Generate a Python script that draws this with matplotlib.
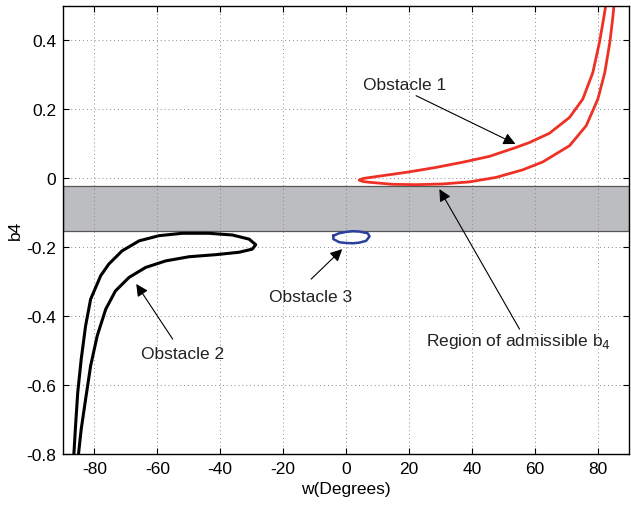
import matplotlib.pyplot as plt

plt.rcParams['font.family'] = ['Liberation Sans', 'DejaVu Sans']

# Obstacle 1 (red): upper branch top->tip, then lower branch tip->top
obs1_w = [82.9, 82.6, 81.9, 80.6, 78.5, 75.3, 71.1, 64.7, 58.3, 54.1, 45.6, 37.1, 28.6,
          20.1, 11.6, 5.5, 4.2,
          5.5, 7.4, 14.8, 22.3, 30.7, 39.2, 47.7, 56.2, 62.6, 71.1, 76.4, 80.1,
          82.3, 83.9, 84.8, 85.2, 85.5]
obs1_b = [0.55, 0.499, 0.461, 0.393, 0.306, 0.229, 0.176, 0.130, 0.103, 0.089, 0.063,
          0.046, 0.031, 0.018, 0.007, -0.001, -0.006,
          -0.010, -0.012, -0.018, -0.019, -0.017, -0.011, 0.002, 0.024, 0.047,
          0.094, 0.152, 0.229, 0.306, 0.393, 0.461, 0.499, 0.55]

# Obstacle 2 (black): outer branch bottom->tip, then inner branch tip->bottom
obs2_w = [-86.8, -86.5, -86.0, -85.3, -84.2, -82.8, -81.2, -78.0, -75.4, -71.2, -65.8, -59.5,
          -52.1, -43.6, -36.1, -30.8, -28.7,
          -29.8, -34.0, -41.4, -49.9, -57.3, -63.7, -69.0, -73.3, -76.4, -79.1, -81.2, -82.8,
          -84.2, -85.0, -85.4]
obs2_b = [-0.85, -0.795, -0.718, -0.621, -0.525, -0.428, -0.351, -0.283, -0.249, -0.211, -0.182,
          -0.167, -0.160, -0.160, -0.165, -0.177, -0.193,
          -0.206, -0.215, -0.222, -0.228, -0.240, -0.259, -0.288, -0.327, -0.380, -0.457, -0.544,
          -0.641, -0.728, -0.795, -0.85]

# Obstacle 3 (blue): small closed loop
obs3_w = [-4.0, -2.2, 0.06, 2.2, 4.3, 6.9, 7.5, 6.4, 4.3, 2.2, -0.1, -2.1, -4.0, -4.0]
obs3_b = [-0.167, -0.160, -0.156, -0.154, -0.155, -0.160, -0.169, -0.182, -0.187, -0.189,
          -0.188, -0.186, -0.177, -0.167]

band_lo, band_hi = -0.152, -0.024

fig = plt.figure(figsize=(6.31, 5.06), dpi=100)
ax = fig.add_axes([0.0998, 0.1008, 0.897, 0.886])

ax.axhspan(band_lo, band_hi, facecolor='#bcbdc1', edgecolor='#555555', lw=0.9, zorder=0.5)

ax.plot(obs1_w, obs1_b, color='#ee3124', lw=2.0, solid_joinstyle='round')
ax.plot(obs2_w, obs2_b, color='black', lw=2.2, solid_joinstyle='round')
ax.plot(obs3_w, obs3_b, color='#2b3f9e', lw=1.8, solid_joinstyle='round')

arrow = dict(arrowstyle='-|>', color='black', lw=0.8, mutation_scale=18, shrinkA=0, shrinkB=0)
txt = dict(ha='center', va='center', fontsize=12.5, color='#222222')

ax.annotate('', xy=(53.9, 0.099), xytext=(22.3, 0.239), arrowprops=arrow)
ax.text(18.6, 0.27, 'Obstacle 1', **txt)
ax.annotate('', xy=(-66.7, -0.307), xytext=(-55.1, -0.467), arrowprops=arrow)
ax.text(-52.0, -0.51, 'Obstacle 2', **txt)
ax.annotate('', xy=(-1.2, -0.206), xytext=(-11.1, -0.293), arrowprops=arrow)
ax.text(-11.3, -0.342, 'Obstacle 3', **txt)
ax.annotate('', xy=(29.7, -0.032), xytext=(55.2, -0.438), arrowprops=arrow)
ax.text(54.9, -0.47, r'Region of admissible b$_4$', **txt)

ax.set_xlim(-90, 90)
ax.set_ylim(-0.8, 0.5)
xt = [-80, -60, -40, -20, 0, 20, 40, 60, 80]
yt = [-0.8, -0.6, -0.4, -0.2, 0, 0.2, 0.4]
ax.set_xticks(xt)
ax.set_xticklabels([str(v) for v in xt])
ax.set_yticks(yt)
ax.set_yticklabels(['-0.8', '-0.6', '-0.4', '-0.2', '0', '0.2', '0.4'])
ax.tick_params(direction='in', top=True, right=True, labelsize=12.5, length=4, width=0.8, pad=5)
ax.grid(True, linestyle=(0, (1, 3)), color='#888888', lw=0.7)
for s in ax.spines.values():
    s.set_linewidth(1.0)

ax.set_xlabel('w(Degrees)', fontsize=12.5, labelpad=4)
ax.set_ylabel('b4', fontsize=12.5, labelpad=2)

fig.savefig('out.png', dpi=100)
